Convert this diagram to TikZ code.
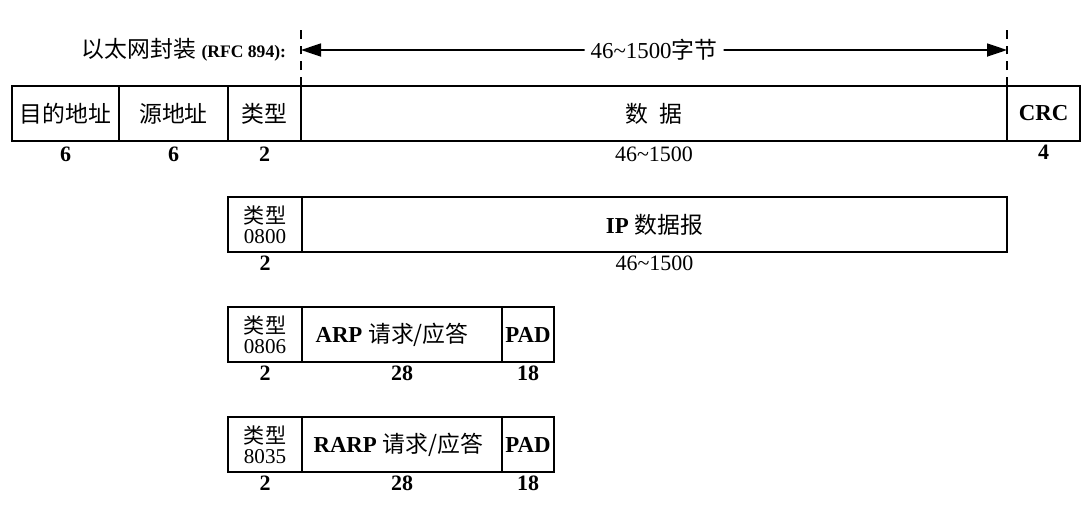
\documentclass[tikz,border=0pt]{standalone}
\usepackage{fontspec}
\setmainfont{Liberation Serif}
\newfontfamily\cjk{Noto Sans CJK SC}
\usepackage{tikz}
\usetikzlibrary{arrows.meta,positioning,calc}

\begin{document}
\begin{tikzpicture}[
  node distance=0pt,
  field/.style={draw,line width=1pt,minimum height=1.1cm,inner sep=0pt,outer sep=0pt,align=center,font=\fontsize{13}{15}\selectfont},
  typefield/.style={field,minimum width=1.48cm,font=\fontsize{12}{11.5}\selectfont},
  size/.style={inner sep=2pt,font=\fontsize{12.5}{14}\selectfont\bfseries},
  arrow/.style={-{Triangle[length=4mm,width=2.6mm]},line width=1pt}
]
\useasboundingbox (0,0) rectangle (21.74,-10.18);

% Ethernet frame
\node[field,minimum width=2.14cm,anchor=north west] (dst) at (0.24,-1.72) {\cjk 目的地址};
\node[field,minimum width=2.18cm,right=of dst] (src) {\cjk 源地址};
\node[field,minimum width=1.46cm,right=of src] (type) {\cjk 类型};
\node[field,minimum width=14.12cm,right=of type] (data) {\cjk 数\enspace 据};
\node[field,minimum width=1.46cm,right=of data] (crc) {\bfseries CRC};
\node[size,below=1pt of dst] (n-dst) {6};
\node[size,below=1pt of src] (n-src) {6};
\node[size,below=1pt of type] (n-type) {2};
\node[size,below=1pt of data,font=\fontsize{12.5}{14}\selectfont] (n-data) {46\textasciitilde1500};
\node[size,below=0pt of crc] (n-crc) {4};

% length of the data field
\draw[dashed,line width=1pt,dash pattern=on 5pt off 4pt] (data.north west) -- ++(0,1.22) coordinate (ltop);
\draw[dashed,line width=1pt,dash pattern=on 5pt off 4pt] (data.north east) -- ++(0,1.22) coordinate (rtop);
\coordinate (lend) at ($(data.north west)+(0,0.72)$);
\coordinate (rend) at ($(data.north east)+(0,0.72)$);
\node[font=\fontsize{13}{15}\selectfont] (len) at ($(lend)!0.5!(rend)$) {46\textasciitilde1500{\cjk 字节}};
\draw[arrow] (len.west) -- (lend);
\draw[arrow] (len.east) -- (rend);
\node[left=5pt of lend,font=\fontsize{13}{15}\selectfont] (title) {{\cjk 以太网封装} {\fontsize{10}{11}\selectfont\bfseries (RFC 894):}};

% IP datagram
\node[typefield,anchor=north west] (iptype) at (4.56,-3.94) {{\cjk 类型}\\0800};
\node[field,minimum width=14.1cm,right=of iptype] (ip) {{\bfseries IP} {\cjk 数据报}};
\node[size,below=0pt of iptype] (n-iptype) {2};
\node[size,below=0pt of ip,font=\fontsize{12.5}{14}\selectfont] (n-ip) {46\textasciitilde1500};

% ARP request/reply
\node[typefield,anchor=north west] (arptype) at (4.56,-6.14) {{\cjk 类型}\\0806};
\node[field,minimum width=4cm,right=of arptype] (arp) {{\bfseries ARP} {\cjk 请求/应答}\hspace*{0.4cm}};
\node[field,minimum width=1.04cm,right=of arp] (arppad) {\bfseries PAD};
\node[size,below=0pt of arptype] (n-arptype) {2};
\node[size,below=0pt of arp] (n-arp) {28};
\node[size,below=0pt of arppad] (n-arppad) {18};

% RARP request/reply
\node[typefield,anchor=north west] (rarptype) at (4.56,-8.34) {{\cjk 类型}\\8035};
\node[field,minimum width=4cm,right=of rarptype] (rarp) {{\bfseries RARP} {\cjk 请求/应答}\hspace*{0.15cm}};
\node[field,minimum width=1.04cm,right=of rarp] (rarppad) {\bfseries PAD};
\node[size,below=0pt of rarptype] (n-rarptype) {2};
\node[size,below=0pt of rarp] (n-rarp) {28};
\node[size,below=0pt of rarppad] (n-rarppad) {18};
\end{tikzpicture}
\end{document}
